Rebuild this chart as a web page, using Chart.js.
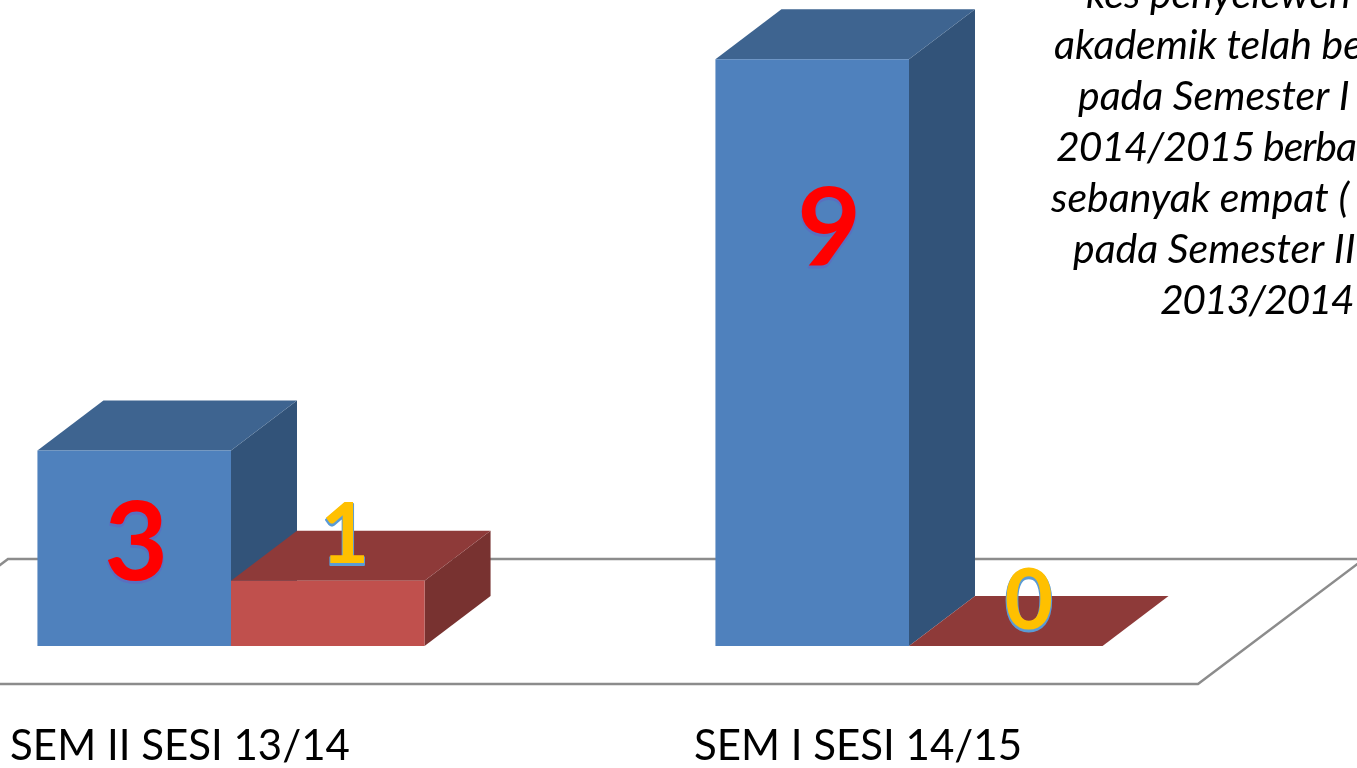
<!DOCTYPE html>
<html><head><meta charset="utf-8">
<style>html,body{margin:0;padding:0;background:#fff;overflow:hidden;width:1357px;height:768px}
#c{position:absolute;left:-108px;top:0}</style>
<script src="https://cdn.jsdelivr.net/npm/chart.js@4"></script></head><body>
<canvas id="c" width="1465" height="768"></canvas>
<script>
const categories = ['SEM II SESI 13/14', 'SEM I SESI 14/15'];
const seriesBlue = [3, 9];
const seriesRed = [1, 0];
const noteLines = ['kes penyelewen', 'akademik telah be', 'pada Semester I', '2014/2015 berba', 'sebanyak empat (', 'pada Semester II', '2013/2014'];

const DX = 66, DY = -50, OX = 108;
function poly(ctx, pts, fill) {
  ctx.beginPath();
  pts.forEach((p, i) => i ? ctx.lineTo(p[0], p[1]) : ctx.moveTo(p[0], p[1]));
  ctx.closePath();
  ctx.fillStyle = fill;
  ctx.fill();
}
const threeD = {
  id: 'threeD',
  beforeDatasetsDraw(chart) {
    const ctx = chart.ctx;
    const y0 = chart.scales.y.getPixelForValue(0);
    ctx.save();
    ctx.strokeStyle = '#8c8c8c';
    ctx.lineWidth = 2.5;
    const fl = [[OX - 158, y0 + 38], [OX + 1198, y0 + 38], [OX + 1198 + 166, y0 - 87], [OX + 8, y0 - 87]];
    ctx.beginPath();
    fl.forEach((p, i) => i ? ctx.lineTo(p[0], p[1]) : ctx.moveTo(p[0], p[1]));
    ctx.closePath();
    ctx.stroke();
    const cols = [['#3e6490', '#325379'], ['#8e3a39', '#783230']];
    categories.forEach((_, i) => {
      [0, 1].forEach(d => {
        const b = chart.getDatasetMeta(d).data[i];
        const l = b.x - b.width / 2, r = b.x + b.width / 2;
        poly(ctx, [[r, b.base], [r + DX, b.base + DY], [r + DX, b.y + DY], [r, b.y]], cols[d][1]);
        poly(ctx, [[l, b.y], [r, b.y], [r + DX, b.y + DY], [l + DX, b.y + DY]], cols[d][0]);
      });
    });
    ctx.restore();
  },
  afterDatasetsDraw(chart) {
    const ctx = chart.ctx;
    ctx.save();
    ctx.textAlign = 'center';
    ctx.textBaseline = 'alphabetic';
    const sets = [
      { vals: seriesBlue, fill: '#ff0000', edge: '#5a6fc0', font: 'bold 110px Lato', at: [[2, 580], [17, 266]] },
      { vals: seriesRed, fill: '#ffc000', edge: '#5b9bd5', font: 'bold 84px Lato', at: [[17, 563], [23, 629]] }
    ];
    sets.forEach((s, d) => {
      ctx.font = s.font;
      s.vals.forEach((v, i) => {
        const b = chart.getDatasetMeta(d).data[i];
        const x = b.x + s.at[i][0], y = s.at[i][1];
        ctx.lineJoin = 'round';
        ctx.lineWidth = 2;
        ctx.strokeStyle = s.edge;
        ctx.fillStyle = s.edge;
        ctx.strokeText(String(v), x, y + 2);
        ctx.fillText(String(v), x, y + 2);
        ctx.fillStyle = s.fill;
        ctx.fillText(String(v), x, y);
      });
    });
    const noteLeft = [1086, 1054, 1078, 1056, 1051, 1073, 1160];
    const noteTrack = ['0px', '0px', '0px', '-1px', '0px', '0px', '-1.6px'];
    ctx.font = 'italic 41px Lato';
    ctx.textAlign = 'left';
    ctx.fillStyle = '#000';
    noteLines.forEach((t, i) => {
      ctx.letterSpacing = noteTrack[i];
      ctx.fillText(t, OX + noteLeft[i], 8 + 51 * i);
    });
    ctx.letterSpacing = '0px';
    ctx.restore();
  }
};
new Chart(document.getElementById('c'), {
  type: 'bar',
  data: { labels: categories, datasets: [
    { label: 'A', data: seriesBlue, backgroundColor: '#4f81bd', borderWidth: 0 },
    { label: 'B', data: seriesRed, backgroundColor: '#c0504d', borderWidth: 0 }
  ]},
  plugins: [threeD],
  options: {
    responsive: false, animation: false,
    layout: { padding: { top: 26.6, right: 109, left: 0, bottom: 0 } },
    plugins: { legend: { display: false }, tooltip: { enabled: false } },
    datasets: { bar: { categoryPercentage: 0.571, barPercentage: 1 } },
    scales: {
      y: { display: false, min: 0, max: 9.5 },
      x: {
        grid: { display: false }, border: { display: false },
        afterFit(s) { s.height = 122; },
        ticks: { labelOffset: -51, padding: 67, maxRotation: 0, color: '#000', font: { family: 'Lato', size: 42 } }
      }
    }
  }
});
</script>
</body></html>
